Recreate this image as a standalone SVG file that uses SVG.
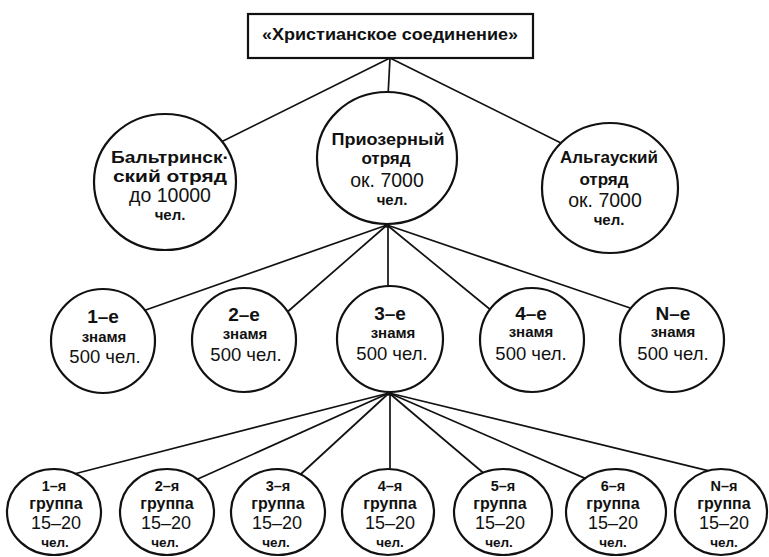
<svg xmlns="http://www.w3.org/2000/svg" width="769" height="557" viewBox="0 0 769 557">
<style>
text{font-family:"Liberation Sans",Arial,sans-serif;fill:#111;text-anchor:middle}
.node{fill:#fff;stroke:#111;stroke-width:2.2}
.conn line{stroke:#111;stroke-width:1.7}
.t{font-size:16px;font-weight:bold}
.nm{font-size:17px;font-weight:bold}
.big{font-size:19.5px}
.sm{font-size:15px;font-weight:bold}
.l3a{font-size:19px;font-weight:bold}
.l3b{font-size:15px;font-weight:bold}
.l3c{font-size:18.5px}
.l4a{font-size:14.5px;font-weight:bold}
.l4b{font-size:16px;font-weight:bold}
.l4c{font-size:18px}
.l4d{font-size:13.5px;font-weight:bold}
</style>
<rect width="769" height="557" fill="#fff"/>
<g id="connectors" class="conn">
<line x1="390" y1="58" x2="388" y2="96"/>
<line x1="390" y1="58" x2="214" y2="145.5"/>
<line x1="390" y1="58" x2="570" y2="147.5"/>
<line x1="387" y1="225" x2="140" y2="312"/>
<line x1="387" y1="225" x2="285" y2="314"/>
<line x1="388" y1="225" x2="388" y2="295"/>
<line x1="387" y1="225" x2="492" y2="311"/>
<line x1="387" y1="225" x2="636" y2="310"/>
<line x1="389" y1="393" x2="72" y2="474.5"/>
<line x1="389" y1="393" x2="190" y2="482.5"/>
<line x1="389" y1="393" x2="296" y2="478.5"/>
<line x1="390" y1="393" x2="390" y2="476"/>
<line x1="389" y1="393" x2="487" y2="476"/>
<line x1="389" y1="393" x2="592" y2="481.4"/>
<line x1="389" y1="393" x2="712" y2="471.7"/>
<circle cx="387" cy="225" r="2.8" fill="#111"/>
<circle cx="389" cy="393" r="2.8" fill="#111"/>
</g>
<g id="root">
<rect class="node" x="248" y="14" width="285" height="44"/>
<text class="t" x="390" y="40" textLength="256" lengthAdjust="spacingAndGlyphs">«Христианское соединение»</text>
</g>
<g id="baltr">
<ellipse class="node" cx="165" cy="182" rx="71" ry="68"/>
<text class="nm" x="170" y="163" textLength="118" lengthAdjust="spacingAndGlyphs">Бальтринск·</text>
<text class="nm" x="170" y="182" textLength="114" lengthAdjust="spacingAndGlyphs">ский отряд</text>
<text class="big" x="170" y="202">до 10000</text>
<text class="sm" x="170" y="220">чел.</text>
</g>
<g id="priozer">
<ellipse class="node" cx="387" cy="158" rx="70" ry="66"/>
<text class="nm" x="388" y="145" textLength="113" lengthAdjust="spacingAndGlyphs">Приозерный</text>
<text class="nm" x="386" y="164">отряд</text>
<text class="big" x="387" y="187">ок. 7000</text>
<text class="sm" x="392" y="205">чел.</text>
</g>
<g id="algau">
<ellipse class="node" cx="610" cy="188" rx="68" ry="65"/>
<text class="nm" x="609" y="163" textLength="98" lengthAdjust="spacingAndGlyphs">Альгауский</text>
<text class="nm" x="604" y="185">отряд</text>
<text class="big" x="605" y="207">ок. 7000</text>
<text class="sm" x="609" y="225">чел.</text>
</g>
<g id="z1">
<circle class="node" cx="103" cy="341" r="52"/>
<text class="l3a" x="103" y="323">1–е</text>
<text class="l3b" x="104" y="342">знамя</text>
<text class="l3c" x="105" y="363">500 чел.</text>
</g>
<g id="z2">
<circle class="node" cx="244" cy="340" r="52"/>
<text class="l3a" x="244" y="321">2–е</text>
<text class="l3b" x="245" y="339">знамя</text>
<text class="l3c" x="246" y="361">500 чел.</text>
</g>
<g id="z3">
<circle class="node" cx="390" cy="339" r="53"/>
<text class="l3a" x="390" y="320">3–е</text>
<text class="l3b" x="393" y="338">знамя</text>
<text class="l3c" x="392" y="360">500 чел.</text>
</g>
<g id="z4">
<circle class="node" cx="532" cy="340" r="52"/>
<text class="l3a" x="531" y="320">4–е</text>
<text class="l3b" x="531" y="337">знамя</text>
<text class="l3c" x="531" y="360">500 чел.</text>
</g>
<g id="zN">
<circle class="node" cx="672" cy="340" r="52"/>
<text class="l3a" x="673" y="320">N–е</text>
<text class="l3b" x="673" y="337">знамя</text>
<text class="l3c" x="673" y="360">500 чел.</text>
</g>
<g id="g1">
<ellipse class="node" cx="54" cy="512" rx="47" ry="43"/>
<text class="l4a" x="54" y="491">1–я</text>
<text class="l4b" x="56" y="509">группа</text>
<text class="l4c" x="56" y="529">15–20</text>
<text class="l4d" x="55" y="547">чел.</text>
</g>
<g id="g2">
<ellipse class="node" cx="167" cy="512" rx="47" ry="43"/>
<text class="l4a" x="167" y="491">2–я</text>
<text class="l4b" x="167" y="509">группа</text>
<text class="l4c" x="166" y="529">15–20</text>
<text class="l4d" x="165" y="547">чел.</text>
</g>
<g id="g3">
<ellipse class="node" cx="278" cy="512" rx="47" ry="43"/>
<text class="l4a" x="278" y="491">3–я</text>
<text class="l4b" x="278" y="509">группа</text>
<text class="l4c" x="277" y="529">15–20</text>
<text class="l4d" x="276" y="547">чел.</text>
</g>
<g id="g4">
<ellipse class="node" cx="388" cy="512" rx="46" ry="43"/>
<text class="l4a" x="390" y="491">4–я</text>
<text class="l4b" x="390" y="509">группа</text>
<text class="l4c" x="390" y="529">15–20</text>
<text class="l4d" x="390" y="547">чел.</text>
</g>
<g id="g5">
<ellipse class="node" cx="503" cy="512" rx="49" ry="43"/>
<text class="l4a" x="503" y="491">5–я</text>
<text class="l4b" x="500" y="509">группа</text>
<text class="l4c" x="500" y="529">15–20</text>
<text class="l4d" x="499" y="547">чел.</text>
</g>
<g id="g6">
<ellipse class="node" cx="616" cy="512" rx="50" ry="43"/>
<text class="l4a" x="613" y="491">6–я</text>
<text class="l4b" x="613" y="509">группа</text>
<text class="l4c" x="613" y="529">15–20</text>
<text class="l4d" x="613" y="547">чел.</text>
</g>
<g id="gN">
<ellipse class="node" cx="721" cy="512" rx="46" ry="43"/>
<text class="l4a" x="724" y="491">N–я</text>
<text class="l4b" x="724" y="509">группа</text>
<text class="l4c" x="724" y="529">15–20</text>
<text class="l4d" x="724" y="547">чел.</text>
</g>
</svg>
